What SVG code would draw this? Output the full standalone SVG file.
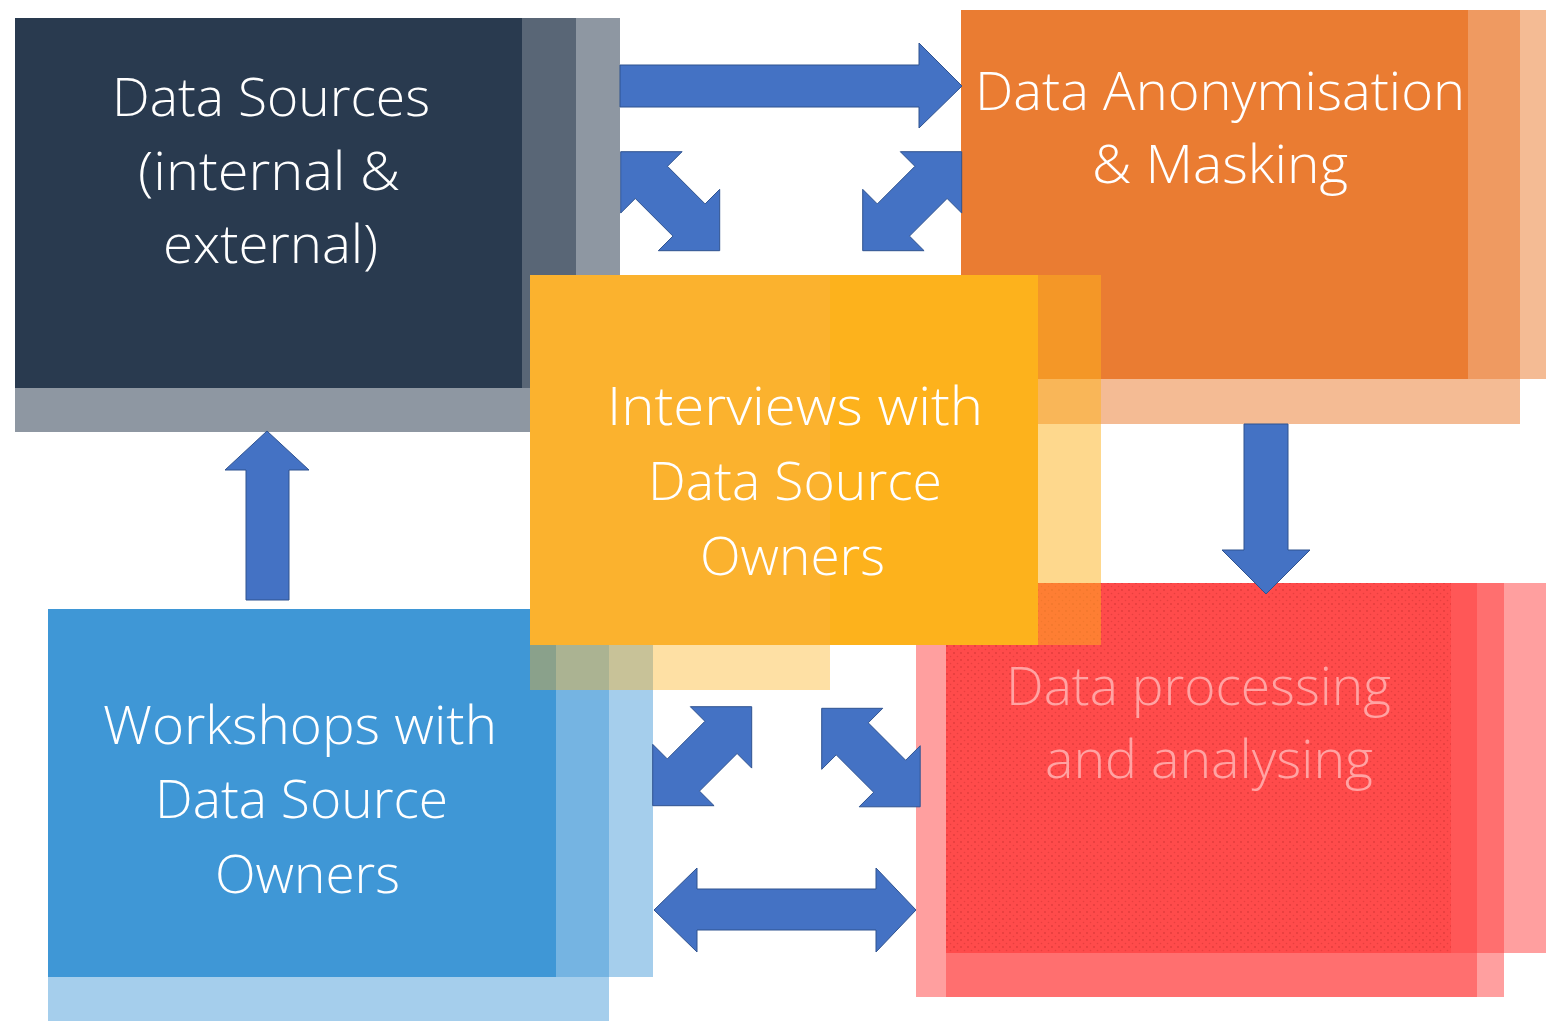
<svg xmlns="http://www.w3.org/2000/svg" width="1546" height="1021" viewBox="0 0 1546 1021">
<style>
.t{font-family:"Open Sans","Lato","Liberation Sans",sans-serif;font-weight:300;font-size:54px;fill:#ffffff}
.tr{fill:#ffa3a3}
.arrow{fill:#4472c4;stroke:#2f528f;stroke-width:1}
.ds{fill:#293a4f;opacity:0.53}
.or{fill:#ea7c32;opacity:0.52}
.bl{fill:#3f97d6;opacity:0.47}
.rd{fill:#ff4040;opacity:0.5}
</style>
<defs>
<path id="diag" d="M0,0 L62,0 L47.25,14.75 L85.25,52.75 L100,38 L100,100 L38,100 L52.75,85.25 L14.75,47.25 L0,62 Z"/>
<pattern id="dots" width="7" height="7" patternUnits="userSpaceOnUse">
<circle cx="2" cy="2" r="0.9" fill="#c42e2e" opacity="0.55"/>
<circle cx="5.5" cy="5.5" r="0.8" fill="#c42e2e" opacity="0.4"/>
</pattern>
</defs>
<rect x="0" y="0" width="1546" height="1021" fill="#ffffff"/>

<g id="node-data-sources">
<rect class="ds" x="15" y="18" width="561" height="414"/>
<rect class="ds" x="15" y="18" width="605" height="370"/>
<rect x="15" y="18" width="507" height="370" fill="#293a4f"/>
<text class="t" x="112" y="116" textLength="318" lengthAdjust="spacingAndGlyphs">Data Sources</text>
<text class="t" x="138" y="190" textLength="262" lengthAdjust="spacingAndGlyphs">(internal &amp;</text>
<text class="t" x="163" y="263" textLength="215" lengthAdjust="spacingAndGlyphs">external)</text>
</g>

<g id="node-anonymisation">
<rect class="or" x="961" y="10" width="559" height="414"/>
<rect class="or" x="961" y="10" width="600" height="369"/>
<rect x="961" y="10" width="507" height="369" fill="#ea7c32"/>
<text class="t" x="975" y="110" textLength="490" lengthAdjust="spacingAndGlyphs">Data Anonymisation</text>
<text class="t" x="1092" y="183" textLength="256" lengthAdjust="spacingAndGlyphs">&amp; Masking</text>
</g>

<g id="node-workshops">
<rect class="bl" x="48" y="609" width="561" height="430"/>
<rect class="bl" x="48" y="609" width="605" height="368"/>
<rect x="48" y="609" width="508" height="368" fill="#3f97d6"/>
<text class="t" x="103" y="744" textLength="394" lengthAdjust="spacingAndGlyphs">Workshops with</text>
<text class="t" x="155" y="818" textLength="293" lengthAdjust="spacingAndGlyphs">Data Source</text>
<text class="t" x="215" y="893" textLength="185" lengthAdjust="spacingAndGlyphs">Owners</text>
</g>

<g id="node-processing">
<rect class="rd" x="916" y="583" width="561" height="414"/>
<rect class="rd" x="946" y="583" width="558" height="414"/>
<rect class="rd" x="946" y="583" width="620" height="370"/>
<rect x="946" y="583" width="505" height="370" fill="#ff4b4b"/>
<rect x="946" y="583" width="505" height="370" fill="url(#dots)"/>
<text class="t tr" x="1006" y="705" textLength="385" lengthAdjust="spacingAndGlyphs">Data processing</text>
<text class="t tr" x="1045" y="778" textLength="328" lengthAdjust="spacingAndGlyphs">and analysing</text>
</g>

<g id="node-interviews">
<rect x="530" y="275" width="300" height="415" fill="#fdb21c" opacity="0.4"/>
<rect x="530" y="275" width="571" height="370" fill="#fdb21c" opacity="0.5"/>
<rect x="530" y="275" width="300" height="370" fill="#fbb22e"/>
<rect x="830" y="275" width="208" height="370" fill="#fdb21c"/>
<text class="t" x="607" y="425" textLength="376" lengthAdjust="spacingAndGlyphs">Interviews with</text>
<text class="t" x="648" y="500" textLength="294" lengthAdjust="spacingAndGlyphs">Data Source</text>
<text class="t" x="700" y="575" textLength="185" lengthAdjust="spacingAndGlyphs">Owners</text>
</g>

<g id="connectors">
<path class="arrow" d="M620,65 L919,65 L919,43 L962,86 L919,128 L919,107 L620,107 Z"/>
<path class="arrow" d="M246,600 L246,470 L225,470 L267,431 L309,470 L289,470 L289,600 Z"/>
<path class="arrow" d="M1244,424 L1288,424 L1288,550 L1310,550 L1266,594 L1222,550 L1244,550 Z"/>
<path class="arrow" d="M654,910 L697,868 L697,889 L876,889 L876,868 L916,910 L876,952 L876,930 L697,930 L697,952 Z"/>
<use href="#diag" class="arrow" transform="translate(620.7,151.7) scale(0.99)"/>
<use href="#diag" class="arrow" transform="translate(961.7,151.7) scale(-0.99,0.99)"/>
<use href="#diag" class="arrow" transform="translate(751.7,706.7) scale(-0.99,0.99)"/>
<use href="#diag" class="arrow" transform="translate(821.7,708.3) scale(0.985)"/>
</g>
</svg>
